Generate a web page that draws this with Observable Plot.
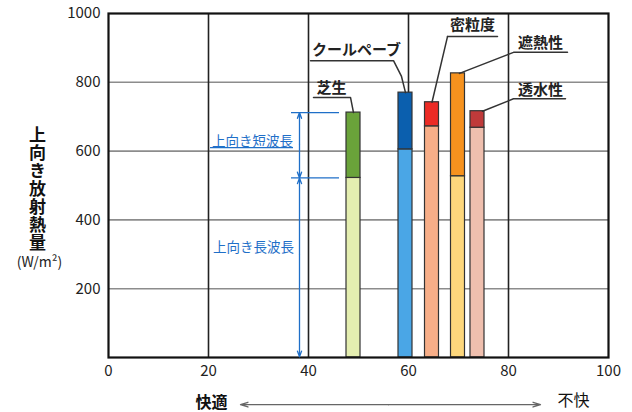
<!DOCTYPE html>
<html><head><meta charset="utf-8">
<script src="https://cdn.jsdelivr.net/npm/d3@7"></script>
<script src="https://cdn.jsdelivr.net/npm/@observablehq/plot@0.6"></script>
<style>body{margin:0;background:#fff}</style>
</head><body><div id="chart"></div>
<script>
// ---- data ----
const categories = ["芝生", "クールペーブ", "密粒度", "遮熱性", "透水性"];
const comfort = [49, 59.4, 64.7, 69.9, 73.8];          // 快適〜不快 index
const longwave = [522, 605, 672, 527, 668];            // 上向き長波長 (W/m²)
const totalUp = [712, 770, 742, 826, 716];             // 長波長 + 短波長
const xTicks = [0, 20, 40, 60, 80, 100];
const yTicks = [200, 400, 600, 800, 1000];
const yTitle = "上向き放射熱量";

// ---- styles ----
const lowerColors = ["#e4eeb0", "#4aa6e6", "#f7ae88", "#fdd77c", "#efbfae"];
const upperColors = ["#6aa33a", "#0b5fae", "#ec2b25", "#f6921e", "#bf3a3a"];
const halfW = 1.4;

const bars = categories.map((c, i) => ({
  name: c, x: comfort[i], lw: longwave[i], tot: totalUp[i],
  lo: lowerColors[i], up: upperColors[i]
}));

// label layout (data units)
const labelPos = {
  "芝生":      {tx: 44.6, ty: 782, line: [[41, 756], [48.4, 756]], end: 0},
  "クールペーブ": {tx: 49.6, ty: 893, line: [[40.4, 863], [57, 863], [58.6, 817]], end: 0},
  "密粒度":    {tx: 72.8, ty: 966, line: [[67.8, 933], [77.8, 933]], end: 0},
  "遮熱性":    {tx: 86.4, ty: 914, line: [[91.8, 887], [81, 887]], end: 0.3},
  "透水性":    {tx: 86.4, ty: 778, line: [[91.4, 752], [81, 752]], end: 1.0}
};
const leaderPaths = [];
bars.forEach((b) => {
  const L = labelPos[b.name];
  let pts = L.line.map(p => ({x: p[0], y: p[1]}));
  if (b.name === "密粒度") {
    leaderPaths.push({id: b.name + "u", pts});
    pts = [{x: L.line[0][0], y: L.line[0][1]}];
  }
  pts = pts.concat([{x: b.x + L.end, y: b.tot}]);
  leaderPaths.push({id: b.name, pts});
});
const leaderData = leaderPaths.flatMap(p => p.pts.map(q => ({...q, id: p.id})));

const blue = "#1f6fc8";
const dimX = 38.2;

const chart = Plot.plot({
  width: 632, height: 412,
  marginLeft: 108, marginRight: 24, marginTop: 13, marginBottom: 55,
  x: {domain: [0, 100]},
  y: {domain: [0, 1000]},
  color: {type: "identity"},
  style: {fontFamily: "'Noto Sans CJK JP', 'Noto Sans', sans-serif", background: "#fff", overflow: "visible"},
  marks: [
    Plot.gridY(yTicks.slice(0, 4), {stroke: "#8c8c8c", strokeOpacity: 1, strokeWidth: 1.6}),
    Plot.gridX(xTicks.slice(1, 5), {stroke: "#222", strokeOpacity: 1, strokeWidth: 1.6}),
    // bars
    Plot.rect(bars, {x1: d => d.x - halfW, x2: d => d.x + halfW, y1: 0, y2: "lw", fill: "lo", stroke: "#333", strokeWidth: 1.2}),
    Plot.rect(bars, {x1: d => d.x - halfW, x2: d => d.x + halfW, y1: "lw", y2: "tot", fill: "up", stroke: "#333", strokeWidth: 1.2}),
    Plot.frame({stroke: "#111", strokeWidth: 2.2}),
    // leaders & labels
    Plot.line(leaderData, {x: "x", y: "y", z: "id", stroke: "#333", strokeWidth: 1.5, curve: "linear"}),
    Plot.text(bars, {x: d => labelPos[d.name].tx, y: d => labelPos[d.name].ty, text: "name", fontSize: 15, fontWeight: "bold", fill: "#222"}),
    // blue dimension annotation
    Plot.ruleY([bars[0].tot, bars[0].lw], {x1: 36.6, x2: 46.2, stroke: blue, strokeWidth: 1.2}),
    Plot.arrow([{a: 620, b: bars[0].tot}, {a: 620, b: bars[0].lw}, {a: 300, b: bars[0].lw}, {a: 300, b: 2}],
      {x1: dimX, x2: dimX, y1: "a", y2: "b", stroke: blue, strokeWidth: 1.3, headLength: 7, headAngle: 40}),
    Plot.text(["上向き短波長"], {x: 28.8, y: 628, text: d => d, fill: blue, fontSize: 13.5}),
    Plot.ruleY([610], {x1: 20.4, x2: 37, stroke: blue, strokeWidth: 1.2}),
    Plot.text(["上向き長波長"], {x: 29, y: 320, text: d => d, fill: blue, fontSize: 13.5}),
    // axes
    Plot.axisX(xTicks, {tickSize: 0, tickPadding: 8, fontSize: 15, label: null, fill: "#222", tickFormat: d => String(d)}),
    Plot.axisY(yTicks, {tickSize: 0, tickPadding: 8, fontSize: 15, label: null, fill: "#222", tickFormat: d => String(d)}),
    // axis titles
    Plot.text([yTitle], {x: -14.2, y: 506, text: d => d, fontSize: 17, fontWeight: "bold", fill: "#111", className: "ytitle"}),
    Plot.text(["(W/m²)"], {x: -13.8, y: 276, text: d => d, fontSize: 14, fill: "#222"}),
    Plot.text(["快適"], {x: 20.6, y: -131, text: d => d, fontSize: 16, fontWeight: "bold", fill: "#111"}),
    Plot.text(["不快"], {x: 93, y: -126, text: d => d, fontSize: 16, fill: "#111"}),
    Plot.arrow([{a: 56, b: 26.4}, {a: 56, b: 86.4}], {x1: "a", x2: "b", y1: -137, y2: -137, stroke: "#666", strokeWidth: 1.3, headLength: 9, headAngle: 35})
  ]
});
// vertical (upright) writing for the y-axis title
d3.select(chart).selectAll("text").filter(function () { return this.textContent === yTitle; })
  .attr("dy", null)
  .style("writing-mode", "vertical-rl")
  .style("text-orientation", "upright")
  .style("letter-spacing", "1px");
document.getElementById("chart").appendChild(chart);
</script>
</body></html>
